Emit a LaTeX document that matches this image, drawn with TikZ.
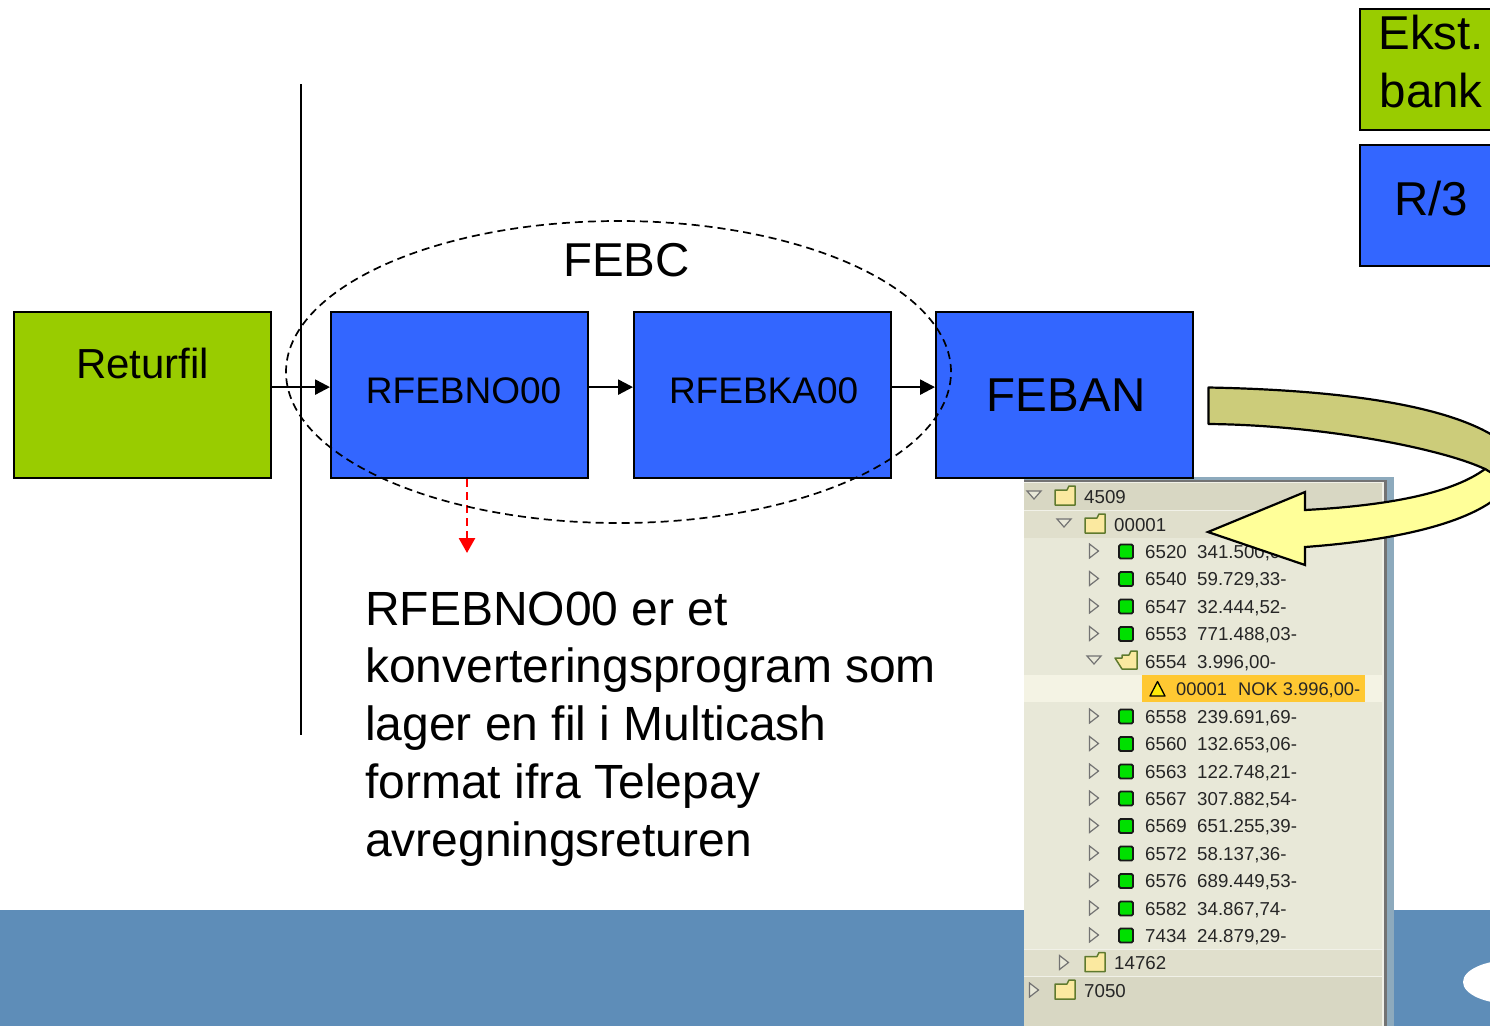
\documentclass[tikz,border=0pt]{standalone}
\usepackage{fontspec}
\setmainfont{Liberation Sans}
\usetikzlibrary{arrows.meta,shapes.geometric}
\definecolor{boxgreen}{HTML}{99CC00}
\definecolor{boxblue}{HTML}{3366FF}
\definecolor{band}{HTML}{5E8DB8}
\definecolor{olive}{HTML}{CCCC7A}
\definecolor{lightyellow}{HTML}{FFFF99}
\definecolor{frameblue}{HTML}{8DAABD}
\definecolor{rowa}{HTML}{D8D7C3}
\definecolor{rowb}{HTML}{E0DFCC}
\definecolor{rowc}{HTML}{E8E8D8}
\definecolor{rowd}{HTML}{F4F3E4}
\definecolor{sel}{HTML}{FFC832}
\definecolor{folderfill}{HTML}{FBE9A0}
\definecolor{folderline}{HTML}{5F7A2E}
\definecolor{ledgreen}{HTML}{00E000}
\newcommand{\raisedtext}[2]{\raisebox{#1}[0pt][0pt]{#2}}
\newcommand{\sizefont}[1]{\fontsize{#1}{58}\selectfont}
\tikzset{
  flow/.style={draw=black,line width=2.2pt,rectangle,inner sep=0pt,minimum height=166pt,minimum width=257pt,anchor=north west,fill=boxblue},
  conn/.style={line width=2.4pt,-{Triangle[length=15pt,width=15pt]}},
  small/.style={font=\fontsize{18.7}{19}\selectfont,text=black!85,anchor=base west,inner sep=0pt},
  tri/.style={draw=black!55,fill=rowc,line width=1.2pt,line join=miter},
  folder/.style={draw=folderline,fill=folderfill,line width=1.5pt,line join=round},
  led/.style={draw=black!90,fill=ledgreen,line width=1.8pt,rounded corners=1.5pt},
}
% y = row centre
\newcommand{\righttri}[2]{\path[tri] (#1-4.5,#2-7) -- (#1+4.5,#2) -- (#1-4.5,#2+7) -- cycle;}
\newcommand{\downtri}[2]{\path[tri] (#1-7,#2-5) -- (#1+7,#2-5) -- (#1,#2+3) -- cycle;}
\newcommand{\foldericon}[2]{\path[folder] (#1-10,#2-6) -- (#1+2,#2-6) -- (#1+4,#2-10) -- (#1+10,#2-10) -- (#1+10,#2+9) -- (#1-10,#2+9) -- cycle;}
\newcommand{\openfolder}[2]{\path[folder] (#1-4,#2-6) -- (#1+3,#2-6) -- (#1+5,#2-10) -- (#1+11,#2-10) -- (#1+11,#2+8) -- (#1-4,#2+8) -- (#1-11,#2-3) -- (#1-4,#2-3) -- cycle;}
\newcommand{\ledicon}[2]{\path[led] (#1-7,#2-6.5) rectangle (#1+7,#2+7.5);}
\begin{document}
\begin{tikzpicture}[x=1pt,y=-1pt]
\useasboundingbox (0,0) rectangle (1490,1026);
\clip (0,0) rectangle (1490,1026);
% footer band and logo blob
\fill[band] (0,910) rectangle (1490,1026);
\fill[white] (1512,982) ellipse [x radius=49pt,y radius=22pt];
% screenshot panel
\fill[frameblue] (1024,477) rectangle (1394,1026);
\fill[black!55] (1024,480) rectangle (1387,1026);
\fill[rowc!60!white] (1024,482) rectangle (1384,1026);
\fill[rowa] (1024,483) rectangle (1382,510);
\fill[rowb] (1024,510.5) rectangle (1382,537.5);
\fill[rowc] (1024,538) rectangle (1382,949);
\fill[rowd] (1024,675) rectangle (1382,702);
\fill[sel] (1142,675) rectangle (1365,702);
\fill[rowb] (1024,949.5) rectangle (1382,976);
\fill[rowa] (1024,976.5) rectangle (1382,1026);
% panel rows
\downtri{1034}{496}
\foldericon{1065}{496}
\node[small] (r4509) at (1084,503) {4509};
\downtri{1064}{524}
\foldericon{1095}{524}
\node[small] (r00001) at (1114,531) {00001};
\foreach \yy/\code/\amt in {551/6520/341.500{,}00-,578.5/6540/59.729{,}33-,606/6547/32.444{,}52-,633.5/6553/771.488{,}03-,716/6558/239.691{,}69-,743.5/6560/132.653{,}06-,771/6563/122.748{,}21-,798/6567/307.882{,}54-,825.5/6569/651.255{,}39-,853/6572/58.137{,}36-,880.5/6576/689.449{,}53-,908/6582/34.867{,}74-,935/7434/24.879{,}29-}{
  \righttri{1094}{\yy}
  \ledicon{1126}{\yy}
  \node[small] (c\code) at (1145,\yy+7) {\code};
  \node[small] (a\code) at (1197,\yy+7) {\amt};
}
\downtri{1094}{661}
\openfolder{1126}{661}
\node[small] (c6554) at (1145,668) {6554};
\node[small] (a6554) at (1197,668) {3.996,00-};
\path[draw=black,fill=yellow!85!sel,line width=1.3pt,line join=round] (1157.5,681.5) -- (1165,696) -- (1150,696) -- cycle;
\node[small,font=\fontsize{18.3}{19}\selectfont] (sel1) at (1176,695.5) {00001};
\node[small,font=\fontsize{18.3}{19}\selectfont] (sel2) at (1238,695.5) {NOK 3.996,00-};
\righttri{1064}{962.5}
\foldericon{1095}{962.5}
\node[small] (r14762) at (1114,969.5) {14762};
\righttri{1034}{990}
\foldericon{1065}{990}
\node[small] (r7050) at (1084,997) {7050};
% legend boxes
\node[draw=black,line width=2.2pt,fill=boxgreen,inner sep=0pt,minimum width=143pt,minimum height=121pt,anchor=north west,font=\sizefont{47.5}] (ekst) at (1358.5,7.5) {\raisedtext{-38pt}{\begin{tabular}[b]{@{}c@{}}Ekst.\\bank\end{tabular}}};
\node[draw=black,line width=2.2pt,fill=boxblue,inner sep=0pt,minimum width=143pt,minimum height=121pt,anchor=north west,font=\sizefont{47.5}] (r3) at (1358.5,143.5) {\raisedtext{-10.5pt}{R/3}};
% flow boxes
\node[flow,fill=boxgreen,font=\sizefont{42}] (returfil) at (13,311) {\raisedtext{17pt}{Returfil}};
\node[flow,font=\sizefont{37}] (rfebno) at (330,311) {\hspace*{8pt}\raisedtext{-8pt}{RFEBNO00}};
\node[flow,font=\sizefont{37}] (rfebka) at (633,311) {\hspace*{2pt}\raisedtext{-8pt}{RFEBKA00}};
\node[flow,font=\sizefont{47.5}] (feban) at (935,311) {\hspace*{3pt}\raisedtext{-16pt}{FEBAN}};
% separator line
\coordinate (sepa) at (301,84);
\coordinate (sepb) at (301,735);
\draw[line width=2pt] (sepa) -- (sepb);
% connectors
\draw[conn] ([yshift=8pt]returfil.east) -- ([yshift=8pt]rfebno.west);
\draw[conn] ([yshift=8pt]rfebno.east) -- ([yshift=8pt]rfebka.west);
\draw[conn] ([yshift=8pt]rfebka.east) -- ([yshift=8pt]feban.west);
\coordinate (redend) at (467,553);
\draw[red,line width=2.7pt,dash pattern=on 8pt off 5pt,-{Triangle[length=15pt,width=16pt]}] (rfebno.south -| redend) -- (redend);
% FEBC group
\node[ellipse,draw=black,line width=1.7pt,dash pattern=on 8pt off 5pt,inner sep=0pt,minimum width=665pt,minimum height=302pt] (febc) at (618.5,372) {};
\node[inner sep=0pt,anchor=base,font=\sizefont{47.5}] (febclabel) at (626.5,276) {FEBC};
% description
\node[inner sep=0pt,anchor=north west,align=left,font=\fontsize{48}{57.75}\selectfont] (desc) at (365,591.5) {RFEBNO00 er et\\konverteringsprogram som\\lager en fil i Multicash\\format ifra Telepay\\avregningsreturen};
% curved arrow
\path[draw=black,line width=2.2pt,fill=olive,line join=round] (1208.5,387.5) .. controls (1340,390) and (1450,405) .. (1500,440) -- (1500,480) -- (1485,469) .. controls (1440,448) and (1320,425) .. (1208.5,424) -- cycle;
\path[draw=black,line width=2.2pt,fill=lightyellow,line join=miter] (1485,469) .. controls (1450,495) and (1380,506) .. (1305,510) -- (1305,492) -- (1208,532) -- (1305,565) -- (1305,547) .. controls (1400,540) and (1470,522) .. (1500,495) -- (1500,478) -- cycle;
\end{tikzpicture}
\end{document}
